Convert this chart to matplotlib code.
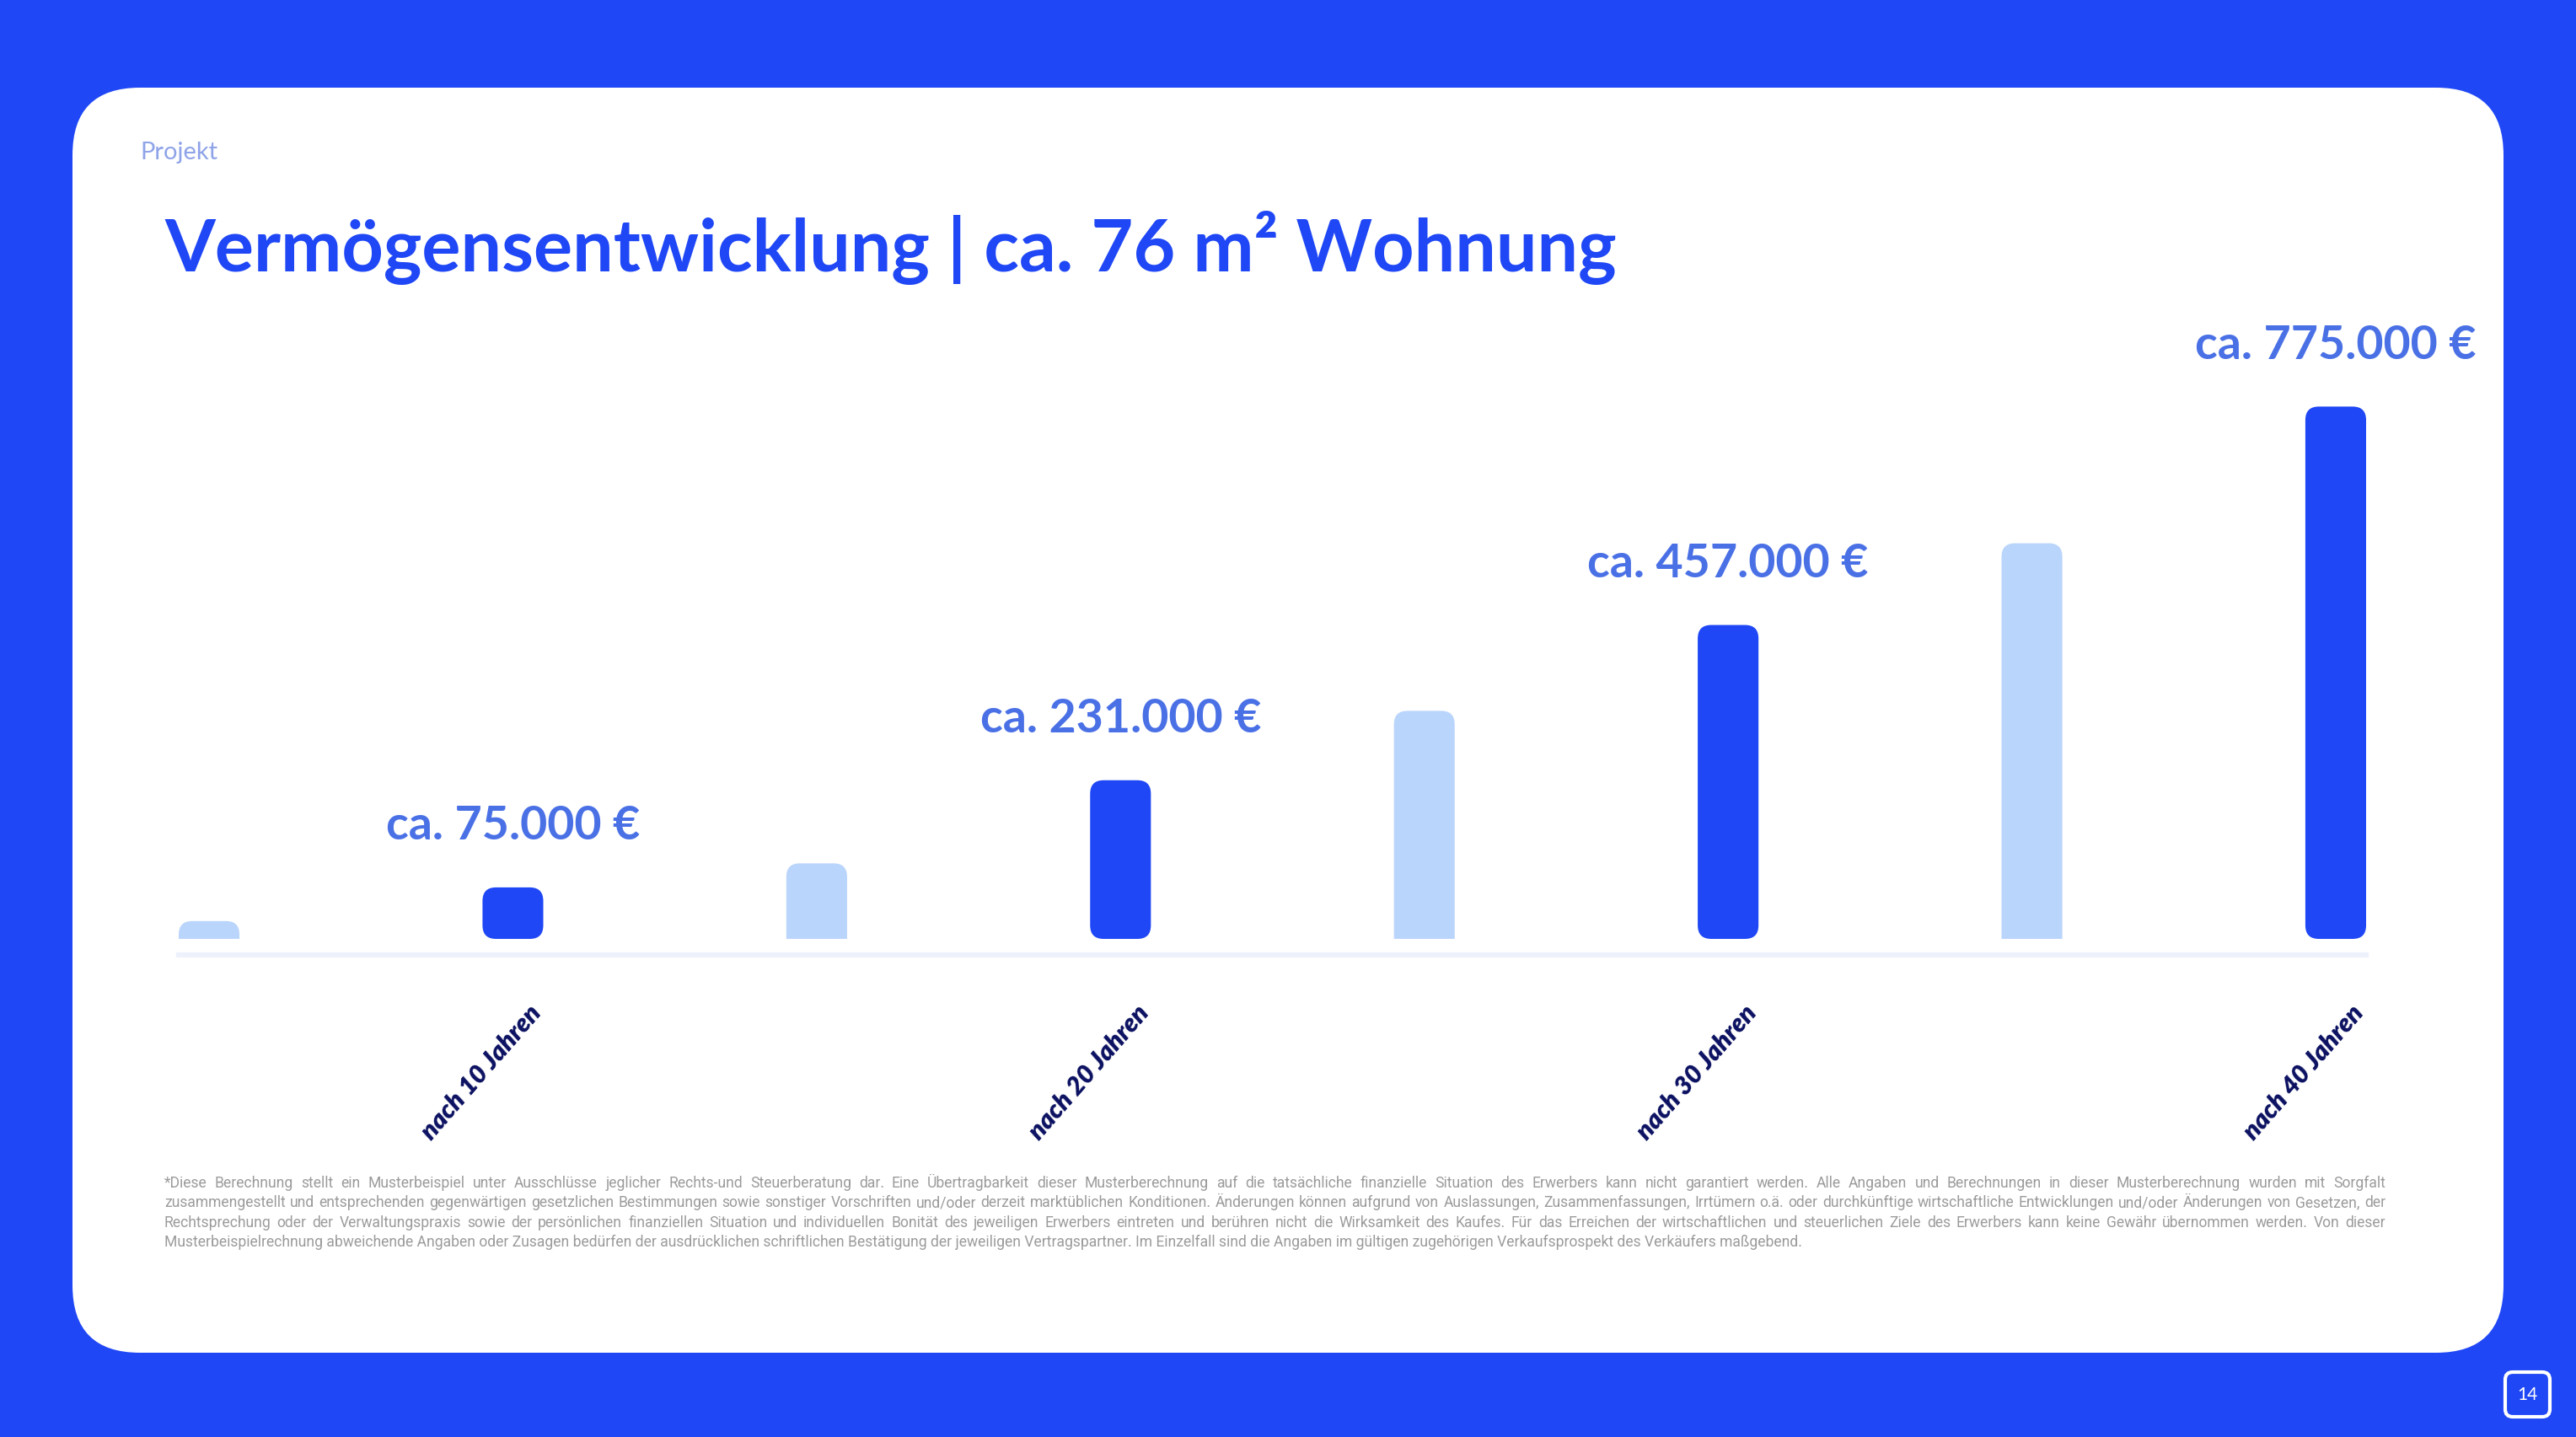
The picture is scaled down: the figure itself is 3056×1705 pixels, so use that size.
import matplotlib.pyplot as plt
from matplotlib.patches import FancyBboxPatch, Rectangle
from matplotlib.transforms import IdentityTransform
from matplotlib import font_manager

# Daten
jahre = [5, 10, 15, 20, 25, 30, 35, 40]
werte = [26000, 75000, 110000, 231000, 332000, 457000, 576000, 775000]
wert_labels = ["ca. 75.000 €", "ca. 231.000 €", "ca. 457.000 €", "ca. 775.000 €"]
tick_labels = ["nach 10 Jahren", "nach 20 Jahren", "nach 30 Jahren", "nach 40 Jahren"]

rubrik = "Projekt"
titel = "Vermögensentwicklung | ca. 76 m² Wohnung"
seite = "14"
fussnote = [
    "*Diese Berechnung stellt ein Musterbeispiel unter Ausschlüsse jeglicher Rechts-und Steuerberatung dar. Eine Übertragbarkeit dieser Musterberechnung auf die tatsächliche finanzielle Situation des Erwerbers kann nicht garantiert werden. Alle Angaben und Berechnungen in dieser Musterberechnung wurden mit Sorgfalt",
    "zusammengestellt und entsprechenden gegenwärtigen gesetzlichen Bestimmungen sowie sonstiger Vorschriften und/oder derzeit marktüblichen Konditionen. Änderungen können aufgrund von Auslassungen, Zusammenfassungen, Irrtümern o.ä. oder durchkünftige wirtschaftliche Entwicklungen und/oder Änderungen von Gesetzen, der",
    "Rechtsprechung oder der Verwaltungspraxis sowie der persönlichen finanziellen Situation und individuellen Bonität des jeweiligen Erwerbers eintreten und berühren nicht die Wirksamkeit des Kaufes. Für das Erreichen der wirtschaftlichen und steuerlichen Ziele des Erwerbers kann keine Gewähr übernommen werden. Von dieser",
    "Musterbeispielrechnung abweichende Angaben oder Zusagen bedürfen der ausdrücklichen schriftlichen Bestätigung der jeweiligen Vertragspartner. Im Einzelfall sind die Angaben im gültigen zugehörigen Verkaufsprospekt des Verkäufers maßgebend.",
]

BLAU = "#1f47f5"
HELL = "#bad5fb"
LABEL = "#4a70e6"
NAVY = "#0a1060"
GRAU = "#9b9b9b"
LINIE = "#edf1fb"

W, H = 3056, 1706
fig = plt.figure(figsize=(W / 100, H / 100), dpi=100, facecolor=BLAU)
renderer = fig.canvas.get_renderer()

namen = {f.name for f in font_manager.fontManager.ttflist}
FONT = "Lato"
FUSS_FONT = "Liberation Sans Narrow" if "Liberation Sans Narrow" in namen else "Roboto"


def breite(s, **kw):
    t = fig.text(0, 0, s, **kw)
    b = t.get_window_extent(renderer).width
    t.remove()
    return b


# weisse Karte
karte = FancyBboxPatch((86, H - 1606), 2884, 1501, boxstyle="round,pad=0,rounding_size=80",
                       transform=IdentityTransform(), fc="white", ec="none", zorder=0)
fig.add_artist(karte)

# Kopf
fig.text(166 / W, 1 - 189 / H, rubrik, fontsize=21, color="#8ea3e8", family=FONT, va="baseline")
gr = 72 * 1725 / breite(titel, fontsize=72, family=FONT, fontweight="bold")
fig.text(195 / W, 1 - 322 / H, titel, fontsize=gr, color=BLAU, family=FONT,
         fontweight="bold", va="baseline")

# Diagramm
ax = fig.add_axes([212 / W, 1 - 1134 / H, (2807 - 212) / W, (1134 - 300) / H])
ax.set_xlim(-0.1, 7.1)
ax.set_ylim(-23300, 1000000)
ax.set_facecolor("none")
for s in ["top", "left", "right"]:
    ax.spines[s].set_visible(False)
ax.spines["bottom"].set_color(LINIE)
ax.spines["bottom"].set_linewidth(4.5)
ax.set_xticks([])
ax.set_yticks([])

p0 = ax.transData.transform((0, 0))
p1 = ax.transData.transform((1, 1))
px_x = p1[0] - p0[0]
px_y = p1[1] - p0[1]
aspekt = px_x / px_y

breite_bar = 0.2
k = 0
for i, (j, v) in enumerate(zip(jahre, werte)):
    dunkel = j % 10 == 0
    farbe = BLAU if dunkel else HELL
    if dunkel:
        r = min(16, v * px_y / 2, breite_bar * px_x / 2) / px_x
        ax.add_patch(FancyBboxPatch((i - breite_bar / 2, 0), breite_bar, v,
                                    boxstyle=f"round,pad=0,rounding_size={r}",
                                    mutation_aspect=aspekt, fc=farbe, ec="none"))
        ax.annotate(wert_labels[k], xy=(i, v), xytext=(0, 53), textcoords="offset points",
                    ha="center", va="center", fontsize=40, fontweight="bold",
                    color=LABEL, family=FONT, annotation_clip=False)
        ax.annotate(tick_labels[k], xy=(i, 0), xytext=(-27, -113), textcoords="offset points",
                    ha="center", va="center", rotation=49, fontsize=22, fontweight="heavy",
                    fontstyle="italic", color=NAVY, family=FONT, annotation_clip=False)
        k += 1
    else:
        # nur oben abgerundet: Patch nach unten verlängern und an der Nulllinie abschneiden
        r = min(16, v * px_y, breite_bar * px_x / 2) / px_x
        unten = 40 / px_y
        bar = FancyBboxPatch((i - breite_bar / 2, -unten), breite_bar, v + unten,
                             boxstyle=f"round,pad=0,rounding_size={r}",
                             mutation_aspect=aspekt, fc=farbe, ec="none")
        ax.add_patch(bar)
        bar.set_clip_path(Rectangle((i - 0.5, 0), 1, v * 2, transform=ax.transData))

# Fussnote, Blocksatz
links, rechts = 195, 2830
gs = 14
faktor = min((rechts - links) / breite(z, fontsize=gs, family=FUSS_FONT) for z in fussnote[:-1])
faktor = min(faktor, 1959 / breite(fussnote[-1], fontsize=gs, family=FUSS_FONT))
gs = gs * faktor
for n, zeile in enumerate(fussnote):
    y = 1 - (1409 + 23.4 * n) / H
    if n < len(fussnote) - 1:
        woerter = zeile.split(" ")
        bs = [breite(w, fontsize=gs, family=FUSS_FONT) for w in woerter]
        luecke = (rechts - links - sum(bs)) / (len(woerter) - 1)
        x = links
        for w, b in zip(woerter, bs):
            fig.text(x / W, y, w, fontsize=gs, family=FUSS_FONT, color=GRAU, va="baseline")
            x += b + luecke
    else:
        fig.text(links / W, y, zeile, fontsize=gs, family=FUSS_FONT, color=GRAU, va="baseline")

# Seitenzahl
box = FancyBboxPatch((2972, H - 1682), 53, 53, boxstyle="round,pad=0,rounding_size=9",
                     transform=IdentityTransform(), fc="none", ec="white", lw=3)
fig.add_artist(box)
fig.text(2998.5 / W, 1 - 1655 / H, seite, fontsize=15, color="white", family=FONT,
         ha="center", va="center")

fig.savefig("out.png", dpi=100, facecolor=BLAU)
